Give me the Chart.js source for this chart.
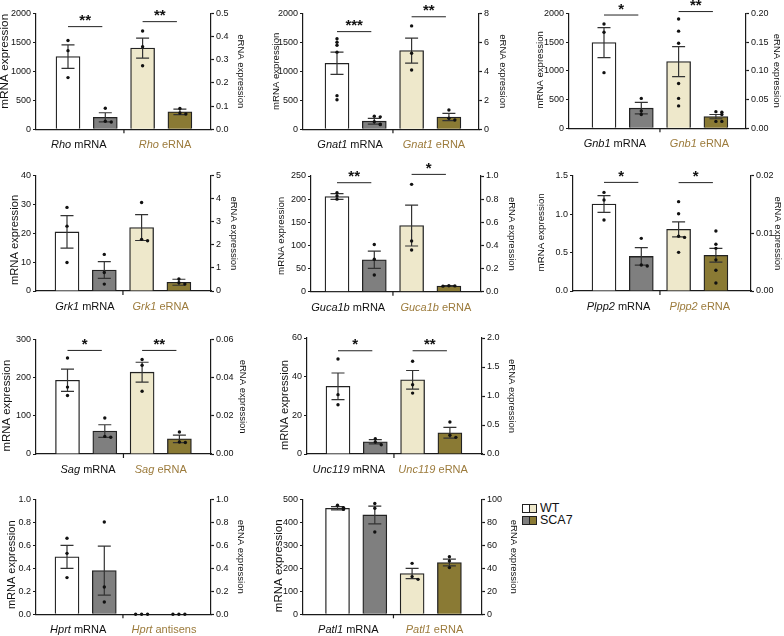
<!DOCTYPE html>
<html>
<head>
<meta charset="utf-8">
<script src="https://cdn.jsdelivr.net/npm/chart.js@4.4.1/dist/chart.umd.min.js"></script>
<style>
body{margin:0;background:#fff;width:784px;height:636px;position:relative;overflow:hidden;font-family:"Liberation Sans",Arial,sans-serif}
#legend{position:absolute;left:522px;top:502px;font-size:12.5px;color:#111}
#legend .row{position:relative;height:12px;line-height:12px;padding-left:18px}
#legend .sw{position:absolute;left:0;top:2px;width:13px;height:7px;border:1px solid #222;display:flex}
#legend .sw i{flex:1;display:block}
#legend .sw i+i{border-left:1px solid #222}
</style>
</head>
<body>
<div id="legend">
  <div class="row"><span class="sw"><i style="background:#ffffff"></i><i style="background:#eee8cb"></i></span>WT</div>
  <div class="row"><span class="sw"><i style="background:#7f7f7f"></i><i style="background:#8a7a34"></i></span>SCA7</div>
</div>
<script>
// ---- data ----
var genes = ['Rho', 'Gnat1', 'Gnb1', 'Grk1', 'Guca1b', 'Plpp2', 'Sag', 'Unc119', 'Hprt', 'Patl1'];
var secondKind = ['eRNA', 'eRNA', 'eRNA', 'eRNA', 'eRNA', 'eRNA', 'eRNA', 'eRNA', 'antisens', 'eRNA'];

var mrnaMax  = [2000, 2000, 2000, 40, 250, 1.5, 300, 60, 1.0, 500];
var mrnaStep = [500, 500, 500, 10, 50, 0.5, 100, 20, 0.2, 100];
var ernaMax  = [0.5, 8, 0.2, 5, 1.0, 0.02, 0.06, 2.0, 1.0, 100];
var ernaStep = [0.1, 2, 0.05, 1, 0.2, 0.01, 0.02, 0.5, 0.2, 20];

var wtMrna      = [1253, 1138, 1490, 20.5, 205.7, 1.131, 193, 35, 0.5, 461];
var wtMrnaSem   = [201, 192, 261, 5.65, 6.1, 0.109, 29, 6.9, 0.1, 7];
var sca7Mrna    = [207, 140, 350, 7.3, 69, 0.45, 60, 6.3, 0.38, 432];
var sca7MrnaSem = [78, 50, 100, 2.9, 18.8, 0.113, 16.5, 1.1, 0.213, 38.5];
var wtErna      = [0.35, 5.43, 0.116, 2.75, 0.572, 0.0107, 0.0428, 1.28, 0, 35.5];
var wtErnaSem   = [0.043, 0.86, 0.026, 0.56, 0.177, 0.0013, 0.0052, 0.16, 0, 4.5];
var sca7Erna    = [0.075, 0.85, 0.0203, 0.38, 0.049, 0.0062, 0.0079, 0.367, 0, 45];
var sca7ErnaSem = [0.012, 0.25, 0.0037, 0.13, 0.003, 0.0012, 0.002, 0.092, 0, 2.9];

var wtMrnaDots = [
  [1530, 1356, 891], [1560, 1500, 1450, 1330, 580, 510], [1814, 1670, 968], [29, 22.5, 9.9],
  [214, 207, 200], [1.283, 1.183, 0.923], [251, 175, 153], [49.1, 30.7, 25.5],
  [0.661, 0.53, 0.319], [474, 464, 456]
];
var sca7MrnaDots = [
  [362, 140, 125], [225, 215, 130, 90, 80], [520, 300, 240], [12.7, 6.4, 2.4],
  [102, 70, 36], [0.685, 0.338, 0.325], [94, 46, 44], [7.9, 6.2, 4.8],
  [0.803, 0.238, 0.107], [482, 461, 358]
];
var wtErnaDots = [
  [0.424, 0.356, 0.274], [7.13, 5.24, 4.09], [0.19, 0.169, 0.148, 0.078, 0.052, 0.039], [3.84, 2.24, 2.18],
  [0.928, 0.438, 0.36], [0.0155, 0.0134, 0.0095, 0.0093, 0.0067], [0.0494, 0.0464, 0.0328], [1.6, 1.195, 1.05],
  [0, 0, 0], [44.3, 32.8, 30.4]
];
var sca7ErnaDots = [
  [0.09, 0.07, 0.066], [1.33, 0.76, 0.64], [0.029, 0.028, 0.024, 0.012, 0.012], [0.52, 0.36, 0.3],
  [0.052, 0.05, 0.048], [0.0104, 0.0081, 0.0074, 0.0054, 0.0036, 0.0014], [0.0115, 0.0063, 0.006], [0.552, 0.322, 0.287],
  [0, 0, 0], [50.1, 46.4, 40.6]
];

var sigMrna = ['**', '***', '*', '', '**', '*', '*', '*', '', ''];
var sigErna = ['**', '**', '**', '', '*', '*', '**', '**', '', ''];

// ---- layout (page px): left axis, right axis, plot top, plot bottom, left title centre, right title centre
var panelBox = [
  [36, 211, 13.3, 129.3, 5, 241],
  [303, 479, 13.3, 129.3, 276, 503],
  [569, 746, 13.3, 128.3, 540.7, 777],
  [36, 211, 175.7, 291, 15, 233.5],
  [311, 481, 176, 291.7, 281, 511.7],
  [573, 751, 175.7, 291, 541, 778],
  [36, 211, 339.3, 454, 7.3, 243],
  [307, 482, 338, 454, 285, 512],
  [36, 211, 499.3, 614.3, 11.7, 241],
  [303, 482, 499.3, 614.3, 279.3, 513.7]
];
var titleShift = [-10, 0, -1, 6.6, 2, -1, 9, 9, 8, 9];
var titleSize = [11.8, 9.6, 9.6, 11.2, 9.7, 9.7, 11.4, 11.2, 11, 11.5];
var firstBar = [32, 34, 35, 31, 26, 31, 31.5, 31, 31, 34.5];
var labelPos = [[0.29, 2.6], [0.35, 2.6], [0.29, 2.56], [0.48, 2.51], [0.3, 2.65],
                [0.39, 2.57], [0.55, 2.5], [0.29, 2.55], [0.3, 2.6], [0.29, 2.6]];
var sigLevel = [[0.885, 0.928], [0.842, 0.97], [0.985, 1.015], null, [0.942, 1.014],
                [0.942, 0.94], [0.903, 0.903], [0.89, 0.89], null, null];

var UNIT = 37.3;
var FONT = '"Liberation Sans", Arial, sans-serif';
var AX = '#1a1a1a';
var C_WT = '#ffffff', C_SCA7 = '#7f7f7f', C_WT_E = '#eee8cb', C_SCA7_E = '#8a7a34', C_LABEL = '#9c7b3c';

function decimals(step) {
  var s = String(step);
  return s.indexOf('.') < 0 ? 0 : s.length - s.indexOf('.') - 1;
}

function dotPoints(vals, xc, max) {
  var used = [];
  return vals.map(function (v) {
    var k = used.filter(function (u) { return Math.abs(u - v) < max * 0.025; }).length;
    used.push(v);
    var off = k === 0 ? 0 : (k % 2 ? 1 : -1) * Math.ceil(k / 2) * 0.16;
    return {x: xc + off, y: v};
  });
}

function axisOpts(pos, max, step, width) {
  var n = decimals(step);
  return {
    position: pos, min: 0, max: max,
    ticks: {stepSize: step, color: '#111', padding: 2, font: {family: FONT, size: 9},
      callback: function (v) { return Number(v).toFixed(n); }},
    grid: {display: true, drawOnChartArea: false, drawTicks: true, tickLength: 3, tickColor: AX, tickWidth: 1.2},
    border: {display: true, color: AX, width: 1.2},
    title: {display: false},
    afterFit: function (s) { s.width = width; }
  };
}

function drawLabel(ctx, x, y, gene, suffix, color) {
  ctx.save();
  ctx.fillStyle = color;
  ctx.textBaseline = 'middle';
  ctx.textAlign = 'left';
  ctx.font = 'italic 11px ' + FONT;
  var w1 = ctx.measureText(gene + ' ').width;
  ctx.font = '11px ' + FONT;
  var w2 = ctx.measureText(suffix).width;
  var x0 = x - (w1 + w2) / 2;
  ctx.font = 'italic 11px ' + FONT;
  ctx.fillText(gene + ' ', x0, y);
  ctx.font = '11px ' + FONT;
  ctx.fillText(suffix, x0 + w1, y);
  ctx.restore();
}

function drawTitle(ctx, text, x, y, angle, size) {
  ctx.save();
  ctx.translate(x, y);
  ctx.rotate(angle);
  ctx.fillStyle = '#111';
  ctx.font = size + 'px ' + FONT;
  ctx.textAlign = 'center';
  ctx.textBaseline = 'middle';
  ctx.fillText(text, 0, 0);
  ctx.restore();
}

var extras = {
  id: 'extras',
  afterDatasetDraw: function (chart, args) {
    var ds = chart.data.datasets[args.index];
    if (!ds.sem) return;
    var ctx = chart.ctx, xs = chart.scales.x, ys = chart.scales[ds.yAxisID];
    ctx.save();
    ctx.strokeStyle = '#333';
    ctx.lineWidth = 1.2;
    ds.data.forEach(function (p, j) {
      var e = ds.sem[j];
      if (!e) return;
      var x = xs.getPixelForValue(p.x);
      var y1 = ys.getPixelForValue(p.y + e), y0 = ys.getPixelForValue(p.y - e);
      ctx.beginPath();
      ctx.moveTo(x, y0); ctx.lineTo(x, y1);
      ctx.moveTo(x - 6.5, y1); ctx.lineTo(x + 6.5, y1);
      ctx.moveTo(x - 6.5, y0); ctx.lineTo(x + 6.5, y0);
      ctx.stroke();
    });
    ctx.restore();
  },
  afterDraw: function (chart, args, o) {
    var ctx = chart.ctx, xs = chart.scales.x, ys = chart.scales.y, area = chart.chartArea;
    var mid = (area.top + area.bottom) / 2;
    drawTitle(ctx, 'mRNA expression', o.tl, mid + o.shift, -Math.PI / 2, o.size);
    drawTitle(ctx, 'eRNA expression', o.tr, mid, Math.PI / 2, 9.5);
    ctx.save();
    // divider tick between the two pairs
    ctx.strokeStyle = AX; ctx.lineWidth = 1.2;
    var xm = xs.getPixelForValue(1.5);
    ctx.beginPath(); ctx.moveTo(xm, area.bottom); ctx.lineTo(xm, area.bottom + 4); ctx.stroke();
    // significance brackets
    [[0, 1, o.sigA, 0], [2, 3, o.sigB, 1]].forEach(function (s) {
      if (!s[2] || !o.level) return;
      var y = ys.getPixelForValue(o.level[s[3]] * ys.max);
      var xa = xs.getPixelForValue(s[0]), xb = xs.getPixelForValue(s[1] - 0.08);
      ctx.strokeStyle = '#222'; ctx.lineWidth = 1;
      ctx.beginPath(); ctx.moveTo(xa, y); ctx.lineTo(xb, y); ctx.stroke();
      ctx.fillStyle = '#111';
      ctx.font = 'bold 15px ' + FONT;
      ctx.textAlign = 'center'; ctx.textBaseline = 'alphabetic';
      ctx.fillText(s[2], (xa + xb) / 2, y - 1.5);
    });
    ctx.restore();
    var ly = area.bottom + 16;
    drawLabel(ctx, xs.getPixelForValue(o.labelX[0]), ly, o.gene, 'mRNA', '#111');
    drawLabel(ctx, xs.getPixelForValue(o.labelX[1]), ly, o.gene, o.kind, C_LABEL);
  }
};

function makePanel(i) {
  var b = panelBox[i];
  var L = b[0], R = b[1], T = b[2], B = b[3];
  var cx = Math.round(b[4] - 7), cr = Math.min(784, Math.round(b[5] + 7));
  var cy = Math.floor(T - 16), cb = Math.ceil(B + 26);
  var cw = cr - cx, ch = cb - cy;
  var canvas = document.createElement('canvas');
  canvas.width = cw; canvas.height = ch;
  canvas.style.cssText = 'position:absolute;left:' + cx + 'px;top:' + cy + 'px;width:' + cw + 'px;height:' + ch + 'px';
  document.body.appendChild(canvas);
  var xMin = -firstBar[i] / UNIT, xMax = xMin + (R - L) / UNIT;
  var barStyle = {borderColor: '#222', borderWidth: 1.3, barThickness: 24, grouped: false, order: 1};
  var dotStyle = {type: 'scatter', order: 0, pointRadius: 1.7, pointBackgroundColor: '#111', pointBorderWidth: 0, clip: false};

  new Chart(canvas, {
    type: 'bar',
    data: {
      datasets: [
        Object.assign({yAxisID: 'y', data: dotPoints(wtMrnaDots[i], 0, mrnaMax[i]).concat(dotPoints(sca7MrnaDots[i], 1, mrnaMax[i]))}, dotStyle),
        Object.assign({yAxisID: 'y2', data: dotPoints(wtErnaDots[i], 2, ernaMax[i]).concat(dotPoints(sca7ErnaDots[i], 3, ernaMax[i]))}, dotStyle),
        Object.assign({type: 'bar', yAxisID: 'y', data: [{x: 0, y: wtMrna[i]}, {x: 1, y: sca7Mrna[i]}],
          sem: [wtMrnaSem[i], sca7MrnaSem[i]], backgroundColor: [C_WT, C_SCA7]}, barStyle),
        Object.assign({type: 'bar', yAxisID: 'y2', data: [{x: 2, y: wtErna[i]}, {x: 3, y: sca7Erna[i]}],
          sem: [wtErnaSem[i], sca7ErnaSem[i]], backgroundColor: [C_WT_E, C_SCA7_E]}, barStyle)
      ]
    },
    options: {
      responsive: false, animation: false, devicePixelRatio: 1,
      layout: {padding: {top: T - cy, left: 0, right: 0, bottom: 0}},
      plugins: {
        legend: {display: false}, tooltip: {enabled: false},
        extras: {gene: genes[i], kind: secondKind[i], labelX: labelPos[i], level: sigLevel[i],
          sigA: sigMrna[i], sigB: sigErna[i], tl: b[4] - cx, tr: b[5] - cx,
          shift: titleShift[i], size: titleSize[i]}
      },
      scales: {
        x: {type: 'linear', min: xMin, max: xMax, offset: false, grid: {display: false},
          border: {display: true, color: AX, width: 1.2}, ticks: {display: false},
          afterFit: function (s) { s.height = cb - B; }},
        y: axisOpts('left', mrnaMax[i], mrnaStep[i], L - cx),
        y2: axisOpts('right', ernaMax[i], ernaStep[i], cr - R)
      }
    },
    plugins: [extras]
  });
}

for (var i = 0; i < genes.length; i++) makePanel(i);
</script>
</body>
</html>
